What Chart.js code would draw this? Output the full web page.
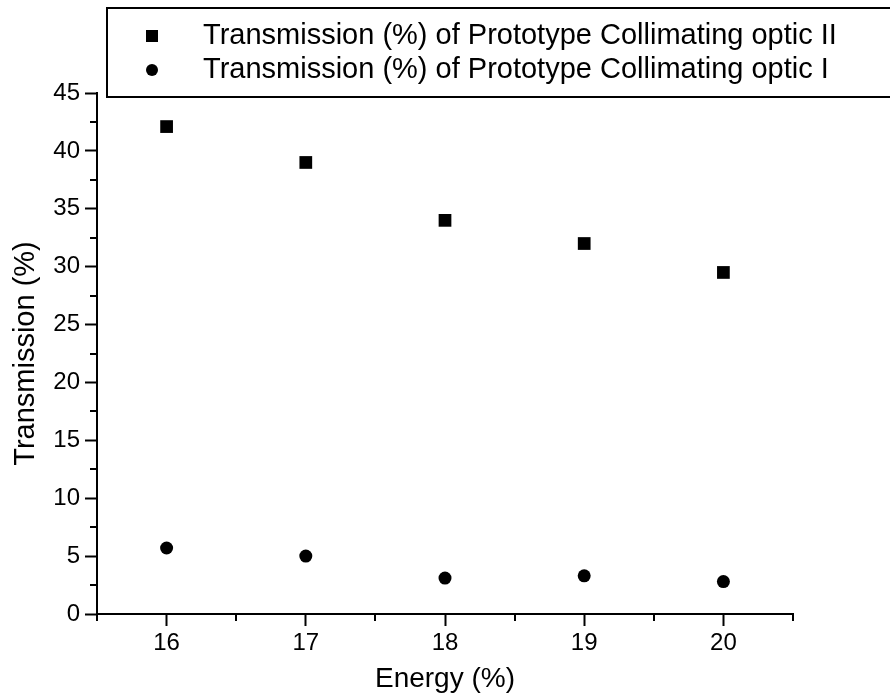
<!DOCTYPE html>
<html>
<head>
<meta charset="utf-8">
<script src="https://cdn.jsdelivr.net/npm/chart.js@4.4.1/dist/chart.umd.min.js"></script>
<style>
  html, body { margin: 0; padding: 0; background: #fff; }
  #wrap { width: 890px; height: 696px; }
</style>
</head>
<body>
<div id="wrap"><canvas id="chart" width="890" height="696"></canvas></div>
<script>
/* Transmission vs energy - scatter */

const energy = [16, 17, 18, 19, 20];
const opticII = [42.1, 39.0, 34.0, 32.0, 29.5];
const opticI = [5.7, 5.0, 3.1, 3.3, 2.8];
const xTickValues = [16, 17, 18, 19, 20];
const seriesLabels = [
  'Transmission (%) of Prototype Collimating optic II',
  'Transmission (%) of Prototype Collimating optic I'
];
const xTitle = 'Energy (%)';
const yTitle = 'Transmission (%)';

const FONT = '"Liberation Sans", Arial, sans-serif';

function toPoints(xs, ys) {
  return xs.map((x, i) => ({ x: x, y: ys[i] }));
}

// short ticks halfway between the labelled ones
const minorTicks = {
  id: 'minorTicks',
  afterDraw(chart) {
    const ctx = chart.ctx;
    const x = chart.scales.x;
    const y = chart.scales.y;
    ctx.save();
    ctx.strokeStyle = '#000';
    ctx.lineWidth = 2;
    ctx.beginPath();
    for (let v = x.min; v <= x.max + 1e-9; v += 1) {
      const px = Math.round(x.getPixelForValue(v));
      ctx.moveTo(px, x.top);
      ctx.lineTo(px, x.top + 7);
    }
    for (let v = y.min + 2.5; v < y.max; v += 5) {
      const py = Math.round(y.getPixelForValue(v));
      ctx.moveTo(y.right, py);
      ctx.lineTo(y.right - 7, py);
    }
    ctx.stroke();
    ctx.restore();
  }
};

// boxed legend in the upper part, running off the right edge
const boxLegend = {
  id: 'boxLegend',
  afterDraw(chart) {
    const ctx = chart.ctx;
    ctx.save();
    ctx.strokeStyle = '#000';
    ctx.lineWidth = 2;
    ctx.strokeRect(107, 8, 820, 89);
    ctx.fillStyle = '#000';
    ctx.font = '29px ' + FONT;
    ctx.textBaseline = 'middle';
    ctx.textAlign = 'left';
    const rows = [36, 70];
    chart.data.datasets.forEach((ds, i) => {
      const cy = rows[i];
      if (ds.pointStyle === 'rect') {
        ctx.fillRect(146, cy - 6, 12, 12);
      } else {
        ctx.beginPath();
        ctx.arc(152, cy, 6, 0, Math.PI * 2);
        ctx.fill();
      }
      ctx.fillText(ds.label, 203, cy);
    });
    ctx.restore();
  }
};

const ctx = document.getElementById('chart').getContext('2d');

new Chart(ctx, {
  type: 'scatter',
  data: {
    datasets: [
      {
        label: seriesLabels[0],
        data: toPoints(energy, opticII),
        pointStyle: 'rect',
        pointRadius: 9,
        backgroundColor: '#000',
        borderColor: '#000',
        borderWidth: 0,
        clip: false
      },
      {
        label: seriesLabels[1],
        data: toPoints(energy, opticI),
        pointStyle: 'circle',
        pointRadius: 6.5,
        backgroundColor: '#000',
        borderColor: '#000',
        borderWidth: 0,
        clip: false
      }
    ]
  },
  options: {
    responsive: false,
    animation: false,
    layout: { padding: { left: 0, right: 97, top: 93, bottom: 0 } },
    plugins: {
      legend: { display: false },
      tooltip: { enabled: false }
    },
    scales: {
      x: {
        type: 'linear',
        min: 15.5,
        max: 20.5,
        afterFit: (s) => { s.height = 82; },
        afterBuildTicks: (s) => { s.ticks = xTickValues.map(v => ({ value: v })); },
        border: { display: true, color: '#000', width: 2 },
        grid: { drawOnChartArea: false, drawTicks: true, tickLength: 12, tickWidth: 2, tickColor: '#000' },
        ticks: {
          color: '#000',
          padding: 3,
          maxRotation: 0,
          autoSkip: false,
          font: { family: FONT, size: 24 }
        },
        title: {
          display: true,
          text: xTitle,
          color: '#000',
          padding: { top: 0, bottom: 0 },
          font: { family: FONT, size: 28 }
        }
      },
      y: {
        type: 'linear',
        min: 0,
        max: 45,
        afterFit: (s) => { s.width = 97; },
        border: { display: true, color: '#000', width: 2 },
        grid: { drawOnChartArea: false, drawTicks: true, tickLength: 12, tickWidth: 2, tickColor: '#000' },
        ticks: {
          stepSize: 5,
          color: '#000',
          padding: 5,
          font: { family: FONT, size: 24 }
        },
        title: {
          display: true,
          text: yTitle,
          color: '#000',
          padding: { top: 9, bottom: 0 },
          font: { family: FONT, size: 29 }
        }
      }
    }
  },
  plugins: [minorTicks, boxLegend]
});
</script>
</body>
</html>
